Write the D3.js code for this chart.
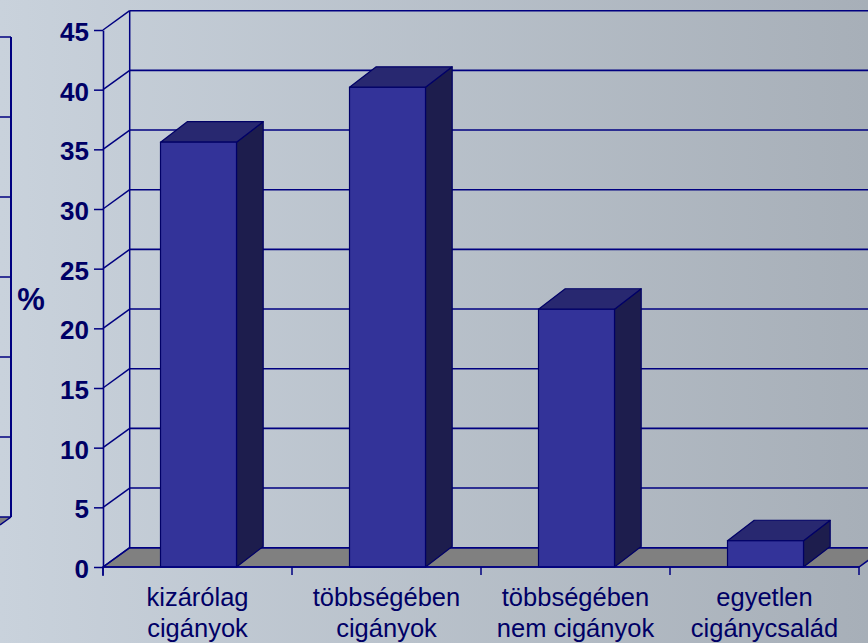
<!DOCTYPE html>
<html><head><meta charset="utf-8">
<script src="https://cdn.jsdelivr.net/npm/d3@7/dist/d3.min.js"></script>
<style>html,body{margin:0;padding:0;overflow:hidden;}svg{display:block;}</style>
</head><body>
<script>
const categories = [["kizárólag","cigányok"],["többségében","cigányok"],["többségében","nem cigányok"],["egyetlen","cigánycsalád"]];
const values = [35.6, 40.2, 21.6, 2.2];
const yTicks = [0,5,10,15,20,25,30,35,40,45];
const yLabel = "%";
const ghostTicks = [0,1,2,3,4,5,6];

const W = 868, H = 643;
const svg = d3.select("body").append("svg").attr("width", W).attr("height", H);
const defs = svg.append("defs");
const g = defs.append("linearGradient").attr("id","bg").attr("x1","0").attr("x2","1").attr("y1","0").attr("y2","0");
g.append("stop").attr("offset","0").attr("stop-color","#c9d2dc");
g.append("stop").attr("offset","1").attr("stop-color","#a7afb8");
svg.append("rect").attr("width",W).attr("height",H).attr("fill","url(#bg)");

const navy = "#000080", txt = "#000066";
const DX = 26.7, DY = -19.3;      // wall depth
const BDX = 26.7, BDY = -20.5;    // bar depth
const y = d3.scaleLinear().domain([0,45]).range([567,30]);
const x = d3.scaleBand().domain(d3.range(categories.length)).range([103,859]).padding(0);
const barW = x.bandwidth()*0.402;

// remnant of a neighbouring chart at the left edge
const gy = d3.scaleLinear().domain([0,6]).range([517,37]);
const ghost = svg.append("g");
ghost.append("polygon").attr("points",`0,${gy(0)} 11,${gy(0)} 0,${gy(0)+8}`).attr("fill","#808080");
ghost.append("line").attr("x1",11).attr("x2",0).attr("y1",gy(0)).attr("y2",gy(0)+8).attr("stroke",navy).attr("stroke-width",1.5);
ghost.selectAll("line.gh").data(ghostTicks).join("line").attr("class","gh")
  .attr("x1",0).attr("x2",11).attr("y1",d=>gy(d)).attr("y2",d=>gy(d)).attr("stroke",navy).attr("stroke-width",1.5);
ghost.append("line").attr("x1",11).attr("x2",11).attr("y1",gy(6)).attr("y2",gy(0)).attr("stroke",navy).attr("stroke-width",2);

const x0 = 103, x1 = 859;
// floor
svg.append("polygon")
  .attr("points",[[x0,y(0)],[x1,y(0)],[x1+DX,y(0)+DY],[x0+DX,y(0)+DY]].map(p=>p.join(",")).join(" "))
  .attr("fill","#808080").attr("stroke",navy).attr("stroke-width",1.5);
// back wall gridlines
svg.selectAll("line.grid").data(yTicks).join("line").attr("class","grid")
  .attr("x1",x0+DX).attr("x2",x1+DX+10).attr("y1",d=>y(d)+DY).attr("y2",d=>y(d)+DY)
  .attr("stroke",navy).attr("stroke-width",1.6);
// side wall diagonals
svg.selectAll("line.diag").data(yTicks).join("line").attr("class","diag")
  .attr("x1",x0).attr("x2",x0+DX).attr("y1",d=>y(d)).attr("y2",d=>y(d)+DY)
  .attr("stroke",navy).attr("stroke-width",1.5);
// back wall left edge
svg.append("line").attr("x1",x0+DX).attr("x2",x0+DX).attr("y1",y(45)+DY).attr("y2",y(0)+DY).attr("stroke",navy).attr("stroke-width",1.5);

// bars
const bars = svg.selectAll("g.bar").data(values).join("g").attr("class","bar");
bars.each(function(v,i){
  const gg = d3.select(this);
  const cx = x(i)+x.bandwidth()/2+1;
  const L = cx-barW/2, R = cx+barW/2, T = y(v), B = y(0);
  gg.append("polygon").attr("points",[[R,B],[R+BDX,B+BDY],[R+BDX,T+BDY],[R,T]].map(p=>p.join(",")).join(" "))
    .attr("fill","#1d1d4d").attr("stroke","#000066").attr("stroke-width",1.2).attr("stroke-linejoin","round");
  gg.append("polygon").attr("points",[[L,T],[R,T],[R+BDX,T+BDY],[L+BDX,T+BDY]].map(p=>p.join(",")).join(" "))
    .attr("fill","#282870").attr("stroke","#000066").attr("stroke-width",1.2).attr("stroke-linejoin","round");
  gg.append("rect").attr("x",L).attr("y",T).attr("width",barW).attr("height",B-T)
    .attr("fill","#333399").attr("stroke","#000066").attr("stroke-width",1.2);
});

// axes
const yAxis = d3.axisLeft(y).tickValues(yTicks).tickSize(9).tickPadding(6).tickSizeOuter(0);
const ya = svg.append("g").attr("transform",`translate(${x0},0)`).call(yAxis);
ya.select(".domain").attr("stroke",navy).attr("stroke-width",1.6);
ya.selectAll(".tick line").attr("stroke",navy).attr("stroke-width",1.5);
ya.selectAll(".tick text").attr("fill",txt).attr("font-family","'Liberation Sans', Arial, sans-serif")
  .attr("font-weight","bold").attr("font-size",26).attr("dy","0.4em").attr("x",-14);
svg.append("line").attr("x1",x0).attr("x2",x0).attr("y1",y(0)).attr("y2",y(0)+9).attr("stroke",navy).attr("stroke-width",1.5);

const xa = svg.append("g").attr("transform",`translate(0,${y(0)})`);
xa.append("line").attr("x1",x0).attr("x2",x1).attr("stroke",navy).attr("stroke-width",1.6);
xa.selectAll("line.xt").data(d3.range(categories.length+1)).join("line").attr("class","xt")
  .attr("x1",d=>x0+d*x.step()).attr("x2",d=>x0+d*x.step()).attr("y1",0).attr("y2",8)
  .attr("stroke",navy).attr("stroke-width",1.5);

const lab = svg.selectAll("text.cat").data(categories).join("text").attr("class","cat")
  .attr("text-anchor","middle").attr("fill",txt)
  .attr("font-family","'Liberation Sans', Arial, sans-serif").attr("font-size",25.5);
lab.each(function(d,i){
  const t = d3.select(this);
  const cx = x(i)+x.bandwidth()/2;
  d.forEach((s,k)=>t.append("tspan").attr("x",cx).attr("y",606+k*31).text(s));
});

svg.append("text").attr("x",31).attr("y",310).attr("text-anchor","middle").attr("fill",txt)
  .attr("font-family","'Liberation Sans', Arial, sans-serif").attr("font-weight","bold").attr("font-size",31).text(yLabel);
</script>
</body></html>
